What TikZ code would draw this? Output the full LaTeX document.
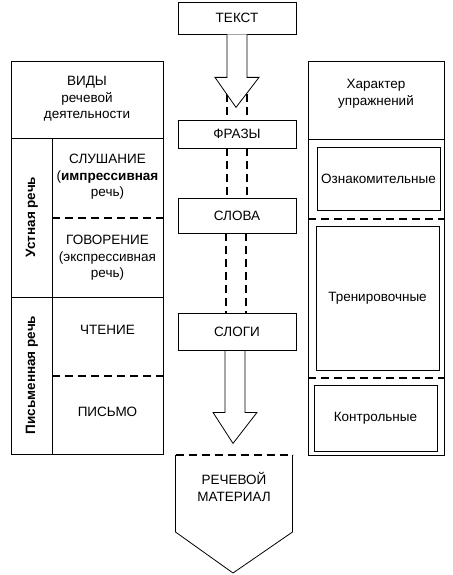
\documentclass[tikz,border=0pt]{standalone}
\usepackage{fontspec}
\setmainfont{Liberation Sans}
\usetikzlibrary{calc}

\begin{document}
\begin{tikzpicture}[x=1pt, y=-1pt, line width=0.8pt,
    font=\fontsize{13.5}{16.5}\selectfont,
    level/.style={draw, align=center, minimum width=118pt,
                  minimum height=32pt, inner sep=2pt, fill=white},
    cell/.style={align=center, inner sep=1pt},
    kind/.style={draw, align=center, inner sep=1pt, minimum width=123pt},
    side/.style={rotate=90, inner sep=1pt, font=\fontsize{13.5}{16}\selectfont\bfseries},
    dashline/.style={line width=1.1pt, dash pattern=on 8pt off 5pt}]
  \useasboundingbox (0,0) rectangle (452,575);

  \node[level] (tekst) at (237,18)  {ТЕКСТ};
  \node[level, minimum height=28pt] (frazy) at (237,134) {ФРАЗЫ};
  \node[level, minimum height=35pt] (slova) at (237,215.5) {СЛОВА};
  \node[level, minimum height=37pt] (slogi) at (237,331.5) {СЛОГИ};
  \node[cell]  (mat)   at (234,487) {РЕЧЕВОЙ\\МАТЕРИАЛ};

  \draw[dashline] ($(tekst.south)+(-10,60)$) -- ($(frazy.north)+(-10,0)$);
  \draw[dashline] ($(tekst.south)+(10,60)$)  -- ($(frazy.north)+(10,0)$);
  \draw[fill=white] ($(tekst.south)+(-10,0)$) -- ++(0,43) -- ++(-12,0)
    -- ($(tekst.south)+(-1,73)$) -- ($(tekst.south)+(22,43)$) -- ++(-12,0)
    -- ($(tekst.south)+(10,0)$);
  \draw[dashline] ($(frazy.south)+(-10,0)$) -- ($(slova.north)+(-10,0)$);
  \draw[dashline] ($(frazy.south)+(10,0)$)  -- ($(slova.north)+(10,0)$);
  \draw[dashline] ($(slova.south)+(-11,0)$) -- ($(slogi.north)+(-11,0)$);
  \draw[dashline] ($(slova.south)+(9,0)$)   -- ($(slogi.north)+(9,0)$);
  \draw ($(slogi.south)+(-12,0)$) -- ++(0,62) -- ++(-12,0)
    -- ($(slogi.south)+(-4,93)$) -- ($(slogi.south)+(20,62)$) -- ++(-12,0)
    -- ($(slogi.south)+(8,0)$);
  \draw ($(mat)+(-58.5,-32)$) -- ($(mat)+(-58.5,45)$) -- ($(mat)+(-1,86)$)
    -- ($(mat)+(58.5,45)$) -- ($(mat)+(58.5,-32)$);
  \draw[dashline] ($(mat)+(-58.5,-32)$) -- ($(mat)+(58.5,-32)$);

  \draw (11,61) rectangle (163,454);
  \draw (11,138) -- (163,138);
  \draw (52,138) -- (52,454);
  \draw (11,297) -- (163,297);
  \draw[dashline] (52,218) -- (163,218);
  \draw[dashline] (52,376) -- (163,376);
  \node[cell] (vidy)   at (87,99)    {ВИДЫ\\речевой\\деятельности};
  \node[side] (ustn)   at (32,217)   {Устная речь};
  \node[side] (pism)   at (32,375)   {Письменная речь};
  \node[cell] (slush)  at (107.5,177) {СЛУШАНИЕ\\(\textbf{импрессивная}\\речь)};
  \node[cell] (govor)  at (107.5,258) {ГОВОРЕНИЕ\\(экспрессивная\\речь)};
  \node[cell] (chten)  at (107.5,330) {ЧТЕНИЕ};
  \node[cell] (pismo)  at (107.5,412) {ПИСЬМО};

  \draw (308,61) rectangle (444,455);
  \draw (308,139) -- (444,139);
  \draw[dashline] (308,219) -- (444,219);
  \draw[dashline] (308,378) -- (444,378);
  \node[cell] (harakt) at (376,94) {Характер\\упражнений};
  \node[kind, minimum height=63pt]  (oznak) at (378.5,178.5) {Ознакомительные};
  \node[kind, minimum height=144pt] (tren)  at (377.5,298)   {Тренировочные};
  \node[kind, minimum height=66pt]  (kontr) at (375.5,418)   {Контрольные};
\end{tikzpicture}
\end{document}
